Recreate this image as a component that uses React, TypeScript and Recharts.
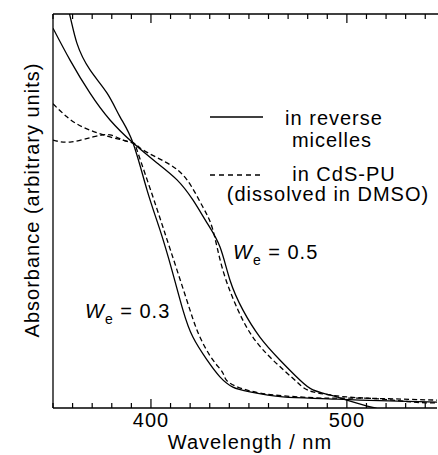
import { LineChart, Line, XAxis, YAxis } from "recharts";

// W_e = 0.3, in reverse micelles (solid)
const we03MicNm = [350, 357.7, 362.2, 368.9, 377.6, 384.2, 390.8, 398, 404.6, 410.7, 416.3, 421.4, 428.6, 435.2, 441.8, 450.5, 467.3, 487.2, 506.6, 546];
const we03MicAbs = [115, 101.5, 92.6, 85.8, 79.9, 73.9, 67.3, 55.3, 45.2, 35, 24.9, 18, 12.2, 7.9, 5.3, 4.1, 2.8, 2.4, 2.0, 1.5];

// W_e = 0.3, CdS-PU in DMSO (dashed)
const we03PuNm = [350, 358.7, 370.4, 379.1, 385.7, 390.8, 393.4, 401, 407.1, 413.3, 419.9, 425, 431.6, 436.7, 440.3, 455.6, 476, 490, 506.6, 546];
const we03PuAbs = [68, 67.5, 68.8, 69.3, 68, 67.3, 64.7, 53.6, 44.4, 35, 24.9, 18, 12.2, 8.9, 6.3, 3.8, 2.8, 2.5, 2.5, 2.0];

// W_e = 0.5, in reverse micelles (solid)
const we05MicNm = [350, 358.7, 368.9, 379.1, 390.8, 403.1, 413.3, 421.4, 428.6, 435.2, 440.3, 446.9, 455.6, 465.8, 476, 482.7, 491.3, 500, 508.2, 514.3, 522];
const we05MicAbs = [96.4, 88.3, 79.9, 73.1, 67.3, 62.2, 57.9, 52.8, 47, 40.9, 32.5, 24.9, 18, 12.2, 7.1, 4.6, 3.3, 2.0, 0.8, 0, -1];

// W_e = 0.5, CdS-PU in DMSO (dashed)
const we05PuNm = [350, 357.1, 365.3, 379.1, 390.8, 395.9, 408.2, 418.4, 426.5, 431.6, 436.7, 444.4, 452, 462.2, 474.5, 482.7, 500, 516.8, 533.7, 546];
const we05PuAbs = [77.2, 73.9, 71.3, 68.8, 67.3, 65.5, 62.2, 57.9, 51, 45.2, 35, 24.9, 18, 12.2, 6.6, 4.1, 2.8, 2.3, 1.5, 1.3];

const xTicks = [350, 360, 370, 380, 390, 400, 410, 420, 430, 440, 450, 460, 470, 480, 490, 500, 510, 520, 530, 540];
const majorTicks = [400, 500];
const X_DOMAIN = [350, 546];

const toPoints = (nm: number[], abs: number[]) => nm.map((x, i) => ({ x, y: abs[i] }));

const FONT = "'Liberation Sans', Arial, Helvetica, sans-serif";
const INK = "#000";
const CHART_W = 438;
const CHART_H = 455;
const MARGIN = { top: 14, right: 1, left: 52, bottom: 17 };
const X_AXIS_H = 30;
const Y_AXIS_W = 1;
const PLOT_L = MARGIN.left + Y_AXIS_W;
const PLOT_T = MARGIN.top;
const PLOT_W = CHART_W - PLOT_L - MARGIN.right;
const PLOT_B = CHART_H - MARGIN.bottom - X_AXIS_H;
const nmToPx = (v: number) => PLOT_L + ((v - X_DOMAIN[0]) / (X_DOMAIN[1] - X_DOMAIN[0])) * PLOT_W;

const TickLabel = (props: any) => {
  const { x, y, payload } = props;
  if (!majorTicks.includes(payload.value)) return <g />;
  return (
    <text x={x} y={y + 19} textAnchor="middle" fontSize={20} letterSpacing={1} fontFamily={FONT} fill={INK}>
      {payload.value}
    </text>
  );
};

const textStyle = { fontFamily: FONT, fontSize: 20, letterSpacing: 1, fill: INK } as const;

export default function App() {
  return (
    <div style={{ position: "absolute", left: 0, top: 0, width: CHART_W, height: CHART_H, background: "#fff" }}>
      <LineChart width={CHART_W} height={CHART_H} margin={MARGIN}>
        <XAxis
          type="number"
          dataKey="x"
          domain={X_DOMAIN}
          ticks={xTicks}
          interval={0}
          height={X_AXIS_H}
          tickSize={0}
          tickMargin={0}
          tickLine={false}
          tick={<TickLabel />}
          axisLine={{ stroke: INK, strokeWidth: 1.3 }}
          allowDataOverflow
        />
        <YAxis
          type="number"
          domain={[0, 100]}
          width={Y_AXIS_W}
          tick={false}
          tickLine={false}
          axisLine={{ stroke: INK, strokeWidth: 1.3 }}
          allowDataOverflow
        />
        <Line data={toPoints(we03MicNm, we03MicAbs)} dataKey="y" type="natural" stroke={INK} strokeWidth={1.3} dot={false} isAnimationActive={false} />
        <Line data={toPoints(we03PuNm, we03PuAbs)} dataKey="y" type="natural" stroke={INK} strokeWidth={1.3} strokeDasharray="5 3" dot={false} isAnimationActive={false} />
        <Line data={toPoints(we05MicNm, we05MicAbs)} dataKey="y" type="natural" stroke={INK} strokeWidth={1.3} dot={false} isAnimationActive={false} />
        <Line data={toPoints(we05PuNm, we05PuAbs)} dataKey="y" type="natural" stroke={INK} strokeWidth={1.3} strokeDasharray="5 3" dot={false} isAnimationActive={false} />
      </LineChart>
      <svg width={CHART_W} height={CHART_H} style={{ position: "absolute", left: 0, top: 0, pointerEvents: "none" }}>
        {/* frame top edge and inward ticks on bottom and top */}
        <line x1={PLOT_L} x2={CHART_W} y1={PLOT_T} y2={PLOT_T} stroke={INK} strokeWidth={1.3} />
        {xTicks.map((v) => {
          const px = nmToPx(v);
          const len = majorTicks.includes(v) ? 9 : 5;
          return (
            <path key={v} d={`M${px},${PLOT_B}V${PLOT_B - len}M${px},${PLOT_T}V${PLOT_T + len}`} stroke={INK} strokeWidth={1.2} fill="none" />
          );
        })}
        {/* legend */}
        <line x1={210} x2={263} y1={117} y2={117} stroke={INK} strokeWidth={1.3} />
        <text x={334} y={125} textAnchor="middle" style={textStyle}>in reverse</text>
        <text x={332} y={147} textAnchor="middle" style={textStyle}>micelles</text>
        <line x1={210} x2={263} y1={175} y2={175} stroke={INK} strokeWidth={1.3} strokeDasharray="5 4" />
        <text x={344} y={181} textAnchor="middle" style={textStyle}>in CdS-PU</text>
        <text x={328} y={201} textAnchor="middle" style={textStyle}>(dissolved in DMSO)</text>
        {/* sample labels */}
        <text x={233} y={259} style={textStyle}>
          <tspan fontStyle="italic">W</tspan>
          <tspan fontSize={14} dy={6}>e</tspan>
          <tspan dy={-6}> = 0.5</tspan>
        </text>
        <text x={85} y={318} style={textStyle}>
          <tspan fontStyle="italic">W</tspan>
          <tspan fontSize={14} dy={6}>e</tspan>
          <tspan dy={-6}> = 0.3</tspan>
        </text>
        {/* axis titles */}
        <text x={250} y={449} textAnchor="middle" style={textStyle}>Wavelength / nm</text>
        <text x={39} y={200} textAnchor="middle" transform="rotate(-90 39 200)" style={textStyle}>
          Absorbance (arbitrary units)
        </text>
      </svg>
    </div>
  );
}
